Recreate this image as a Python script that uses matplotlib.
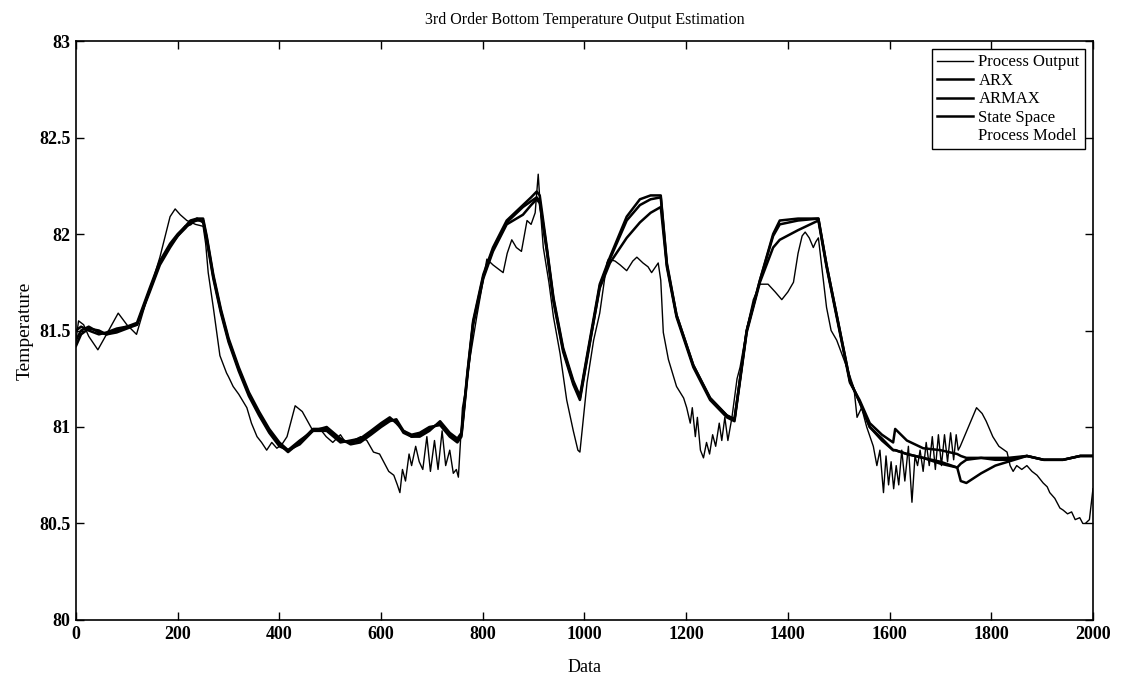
import matplotlib
matplotlib.use("Agg")
import matplotlib.pyplot as plt

# ---------------- data ----------------
po_x = [0, 5, 15, 25, 43, 60, 83, 100, 119, 130, 139, 150, 165, 185, 195, 205, 218, 235, 250, 255,
        260, 270, 283, 296, 300, 309, 320, 336, 345, 356, 365, 375, 385, 395, 405, 415, 431, 445, 466, 480,
        492, 505, 520, 530, 545, 560, 572, 585, 597, 605, 615, 625, 632, 637, 642, 648, 655, 660, 668, 675,
        682, 690, 697, 705, 712, 720, 727, 735, 742, 748, 752, 760, 768, 775, 788, 800, 808, 820, 830, 840,
        848, 857, 866, 876, 887, 895, 903, 909, 914, 919, 930, 939, 952, 965, 978, 987, 991, 1005, 1018, 1030,
        1044, 1047, 1060, 1070, 1083, 1095, 1103, 1115, 1125, 1132, 1145, 1150, 1155, 1165, 1181, 1195, 1201, 1208, 1212, 1218,
        1222, 1228, 1234, 1240, 1246, 1252, 1258, 1265, 1270, 1276, 1282, 1290, 1300, 1306, 1320, 1332, 1345, 1361, 1375, 1388,
        1400, 1411, 1420, 1428, 1434, 1442, 1450, 1455, 1460, 1468, 1476, 1485, 1496, 1510, 1520, 1530, 1536, 1545, 1555, 1568,
        1575, 1581, 1588, 1593, 1598, 1603, 1608, 1613, 1618, 1624, 1630, 1637, 1644, 1650, 1655, 1660, 1666, 1672, 1678, 1684,
        1690, 1696, 1702, 1708, 1714, 1720, 1726, 1731, 1735, 1739, 1755, 1771, 1782, 1790, 1803, 1815, 1831, 1837, 1843, 1850,
        1860, 1870, 1880, 1890, 1902, 1910, 1915, 1925, 1935, 1941, 1950, 1958, 1965, 1974, 1980, 1985, 1993, 2000]
po_y = [81.45, 81.55, 81.53, 81.47, 81.40, 81.48, 81.59, 81.53, 81.48, 81.58, 81.66, 81.75, 81.88, 82.09, 82.13, 82.10, 82.07, 82.05, 82.04, 81.95,
        81.80, 81.62, 81.37, 81.28, 81.26, 81.21, 81.17, 81.10, 81.02, 80.95, 80.92, 80.88, 80.92, 80.89, 80.91, 80.95, 81.11, 81.08, 80.98, 80.99,
        80.95, 80.92, 80.96, 80.92, 80.93, 80.95, 80.93, 80.87, 80.86, 80.82, 80.77, 80.75, 80.70, 80.66, 80.78, 80.72, 80.86, 80.80, 80.90, 80.82,
        80.78, 80.95, 80.77, 80.93, 80.78, 80.98, 80.80, 80.88, 80.76, 80.78, 80.74, 81.10, 81.22, 81.36, 81.57, 81.75, 81.87, 81.84, 81.82, 81.80,
        81.90, 81.97, 81.93, 81.91, 82.07, 82.05, 82.11, 82.31, 82.10, 81.93, 81.75, 81.57, 81.38, 81.14, 80.98, 80.88, 80.87, 81.23, 81.45, 81.59,
        81.85, 81.87, 81.86, 81.84, 81.81, 81.86, 81.88, 81.85, 81.83, 81.80, 81.85, 81.76, 81.49, 81.35, 81.21, 81.15, 81.10, 81.02, 81.10, 80.95,
        81.05, 80.88, 80.84, 80.92, 80.86, 80.96, 80.90, 81.02, 80.93, 81.05, 80.93, 81.05, 81.25, 81.31, 81.52, 81.66, 81.74, 81.74, 81.70, 81.66,
        81.70, 81.75, 81.90, 81.99, 82.01, 81.98, 81.93, 81.96, 81.98, 81.80, 81.62, 81.50, 81.45, 81.35, 81.28, 81.20, 81.05, 81.10, 81.00, 80.90,
        80.80, 80.88, 80.66, 80.85, 80.70, 80.82, 80.68, 80.80, 80.70, 80.88, 80.72, 80.90, 80.61, 80.85, 80.80, 80.88, 80.77, 80.92, 80.80, 80.95,
        80.78, 80.96, 80.80, 80.96, 80.82, 80.97, 80.83, 80.96, 80.88, 80.90, 81.00, 81.10, 81.07, 81.03, 80.95, 80.90, 80.87, 80.80, 80.77, 80.80,
        80.78, 80.80, 80.77, 80.75, 80.71, 80.69, 80.66, 80.63, 80.58, 80.57, 80.55, 80.56, 80.52, 80.53, 80.50, 80.50, 80.52, 80.68]

model_x = [0, 10, 25, 45, 60, 80, 100, 120, 145, 165, 185, 200, 215, 225, 238, 250, 257, 270, 285, 300,
           320, 340, 360, 380, 400, 417, 440, 466, 493, 520, 540, 559, 580, 600, 617, 630, 644, 660, 676, 695,
           716, 735, 750, 758, 770, 781, 801, 820, 847, 879, 895, 906, 912, 926, 939, 958, 978, 991, 1005, 1030,
           1050, 1083, 1109, 1130, 1150, 1162, 1181, 1214, 1247, 1280, 1295, 1319, 1345, 1371, 1384, 1420, 1460, 1476, 1496, 1522,
           1541, 1561, 1585, 1607, 1611, 1634, 1666, 1700, 1733, 1740, 1751, 1780, 1808, 1833, 1870, 1903, 1941, 1975, 2000]
arx_y = [81.45, 81.50, 81.52, 81.49, 81.48, 81.50, 81.52, 81.53, 81.71, 81.85, 81.94, 81.99, 82.03, 82.06, 82.07, 82.07, 81.98, 81.78, 81.60, 81.45,
         81.30, 81.17, 81.07, 80.98, 80.91, 80.87, 80.92, 80.99, 80.99, 80.93, 80.92, 80.93, 80.97, 81.01, 81.04, 81.03, 80.97, 80.95, 80.96, 80.99,
         81.02, 80.96, 80.93, 80.96, 81.28, 81.54, 81.78, 81.92, 82.06, 82.14, 82.17, 82.19, 82.17, 81.92, 81.66, 81.40, 81.23, 81.15, 81.36, 81.72,
         81.85, 81.98, 82.06, 82.11, 82.14, 81.83, 81.57, 81.31, 81.14, 81.05, 81.03, 81.49, 81.75, 81.93, 81.97, 82.02, 82.07, 81.83, 81.57, 81.23,
         81.14, 81.02, 80.96, 80.92, 80.99, 80.93, 80.89, 80.88, 80.86, 80.85, 80.84, 80.84, 80.83, 80.83, 80.85, 80.83, 80.83, 80.85, 80.85]
armax_y = [81.50, 81.52, 81.50, 81.48, 81.49, 81.51, 81.52, 81.54, 81.72, 81.86, 81.95, 82.00, 82.04, 82.07, 82.08, 82.06, 81.97, 81.77, 81.59, 81.44,
           81.29, 81.16, 81.06, 80.97, 80.90, 80.88, 80.93, 80.98, 80.98, 80.92, 80.93, 80.94, 80.98, 81.02, 81.05, 81.02, 80.98, 80.96, 80.97, 81.00,
           81.01, 80.95, 80.92, 80.95, 81.27, 81.53, 81.77, 81.91, 82.05, 82.10, 82.15, 82.18, 82.16, 81.91, 81.65, 81.39, 81.22, 81.14, 81.35, 81.73,
           81.87, 82.07, 82.15, 82.18, 82.19, 81.84, 81.58, 81.32, 81.15, 81.06, 81.04, 81.50, 81.76, 81.99, 82.05, 82.07, 82.08, 81.84, 81.58, 81.24,
           81.13, 81.00, 80.94, 80.88, 80.88, 80.86, 80.84, 80.81, 80.79, 80.81, 80.83, 80.84, 80.84, 80.84, 80.85, 80.83, 80.83, 80.85, 80.85]
ss_y = [81.42, 81.48, 81.51, 81.50, 81.48, 81.49, 81.51, 81.53, 81.70, 81.84, 81.93, 81.99, 82.04, 82.05, 82.08, 82.08, 81.99, 81.79, 81.61, 81.46,
        81.31, 81.18, 81.08, 80.99, 80.92, 80.88, 80.91, 80.98, 81.00, 80.94, 80.91, 80.92, 80.96, 81.00, 81.03, 81.04, 80.98, 80.95, 80.95, 80.98,
        81.03, 80.97, 80.94, 80.97, 81.29, 81.55, 81.79, 81.93, 82.07, 82.15, 82.19, 82.22, 82.20, 81.93, 81.67, 81.41, 81.24, 81.16, 81.37, 81.74,
        81.88, 82.09, 82.18, 82.20, 82.20, 81.85, 81.58, 81.32, 81.15, 81.06, 81.04, 81.50, 81.76, 82.00, 82.07, 82.08, 82.08, 81.84, 81.58, 81.24,
        81.13, 81.00, 80.93, 80.88, 80.88, 80.86, 80.84, 80.82, 80.79, 80.72, 80.71, 80.76, 80.80, 80.82, 80.85, 80.83, 80.83, 80.85, 80.85]
pm_y = [81.47, 81.50, 81.51, 81.49, 81.48, 81.50, 81.52, 81.53, 81.70, 81.85, 81.94, 81.99, 82.03, 82.06, 82.07, 82.07, 81.98, 81.78, 81.60, 81.45,
        81.30, 81.17, 81.07, 80.98, 80.91, 80.87, 80.92, 80.99, 80.99, 80.93, 80.92, 80.93, 80.97, 81.01, 81.04, 81.03, 80.97, 80.95, 80.96, 80.99,
        81.02, 80.96, 80.93, 80.96, 81.28, 81.54, 81.78, 81.92, 82.06, 82.14, 82.17, 82.19, 82.17, 81.92, 81.66, 81.40, 81.23, 81.15, 81.36, 81.72,
        81.85, 81.98, 82.06, 82.11, 82.14, 81.83, 81.57, 81.31, 81.14, 81.05, 81.03, 81.49, 81.75, 81.93, 81.97, 82.02, 82.07, 81.83, 81.57, 81.23,
        81.14, 81.02, 80.96, 80.92, 80.99, 80.93, 80.89, 80.88, 80.86, 80.85, 80.84, 80.84, 80.83, 80.83, 80.85, 80.83, 80.83, 80.85, 80.85]

labels = ["Process Output", "ARX", "ARMAX", "State Space", "Process Model"]
x_ticks = [0, 200, 400, 600, 800, 1000, 1200, 1400, 1600, 1800, 2000]
y_ticks = [80, 80.5, 81, 81.5, 82, 82.5, 83]
y_ticklabels = ["80", "80.5", "81", "81.5", "82", "82.5", "83"]

# ---------------- plot ----------------
plt.rcParams['font.family'] = ['Liberation Serif', 'DejaVu Serif']
fig = plt.figure(figsize=(11.21, 6.84), dpi=100)
ax = fig.add_axes([0.0678, 0.0936, 0.9072, 0.8464])

ax.plot(model_x, pm_y, color='white', lw=1.8, zorder=1, label=labels[4])
ax.plot(model_x, arx_y, color='black', lw=1.8, zorder=3, label=labels[1])
ax.plot(model_x, armax_y, color='black', lw=1.8, zorder=3, label=labels[2])
ax.plot(model_x, ss_y, color='black', lw=1.8, zorder=3, label=labels[3])
ax.plot(po_x, po_y, color='black', lw=1.0, zorder=4, label=labels[0])

ax.set_xlim(0, 2000)
ax.set_ylim(80, 83)
ax.set_xticks(x_ticks)
ax.set_xticklabels([str(t) for t in x_ticks])
ax.set_yticks(y_ticks)
ax.set_yticklabels(y_ticklabels)
ax.tick_params(direction='in', length=6, width=1, top=True, right=True,
               labelsize=13, pad=4)
for lab in ax.get_xticklabels() + ax.get_yticklabels():
    lab.set_fontweight('bold')
for s in ax.spines.values():
    s.set_linewidth(1.2)

ax.set_title("3rd Order Bottom Temperature Output Estimation", fontsize=11.5, pad=12)
ax.set_xlabel("Data", fontsize=13, labelpad=12)
ax.set_ylabel("Temperature", fontsize=14, labelpad=4)

handles, labs = ax.get_legend_handles_labels()
order = [labs.index(l) for l in labels]
leg = ax.legend([handles[i] for i in order], [labs[i] for i in order],
                loc='upper right', fontsize=12, frameon=True, fancybox=False,
                edgecolor='black', framealpha=1, handlelength=2.2,
                handletextpad=0.3, borderpad=0.3, labelspacing=0.15,
                borderaxespad=0.5)
leg.get_frame().set_linewidth(1.0)
leg.legend_handles[0].set_linewidth(1.0)

fig.savefig("out.png", dpi=100)
